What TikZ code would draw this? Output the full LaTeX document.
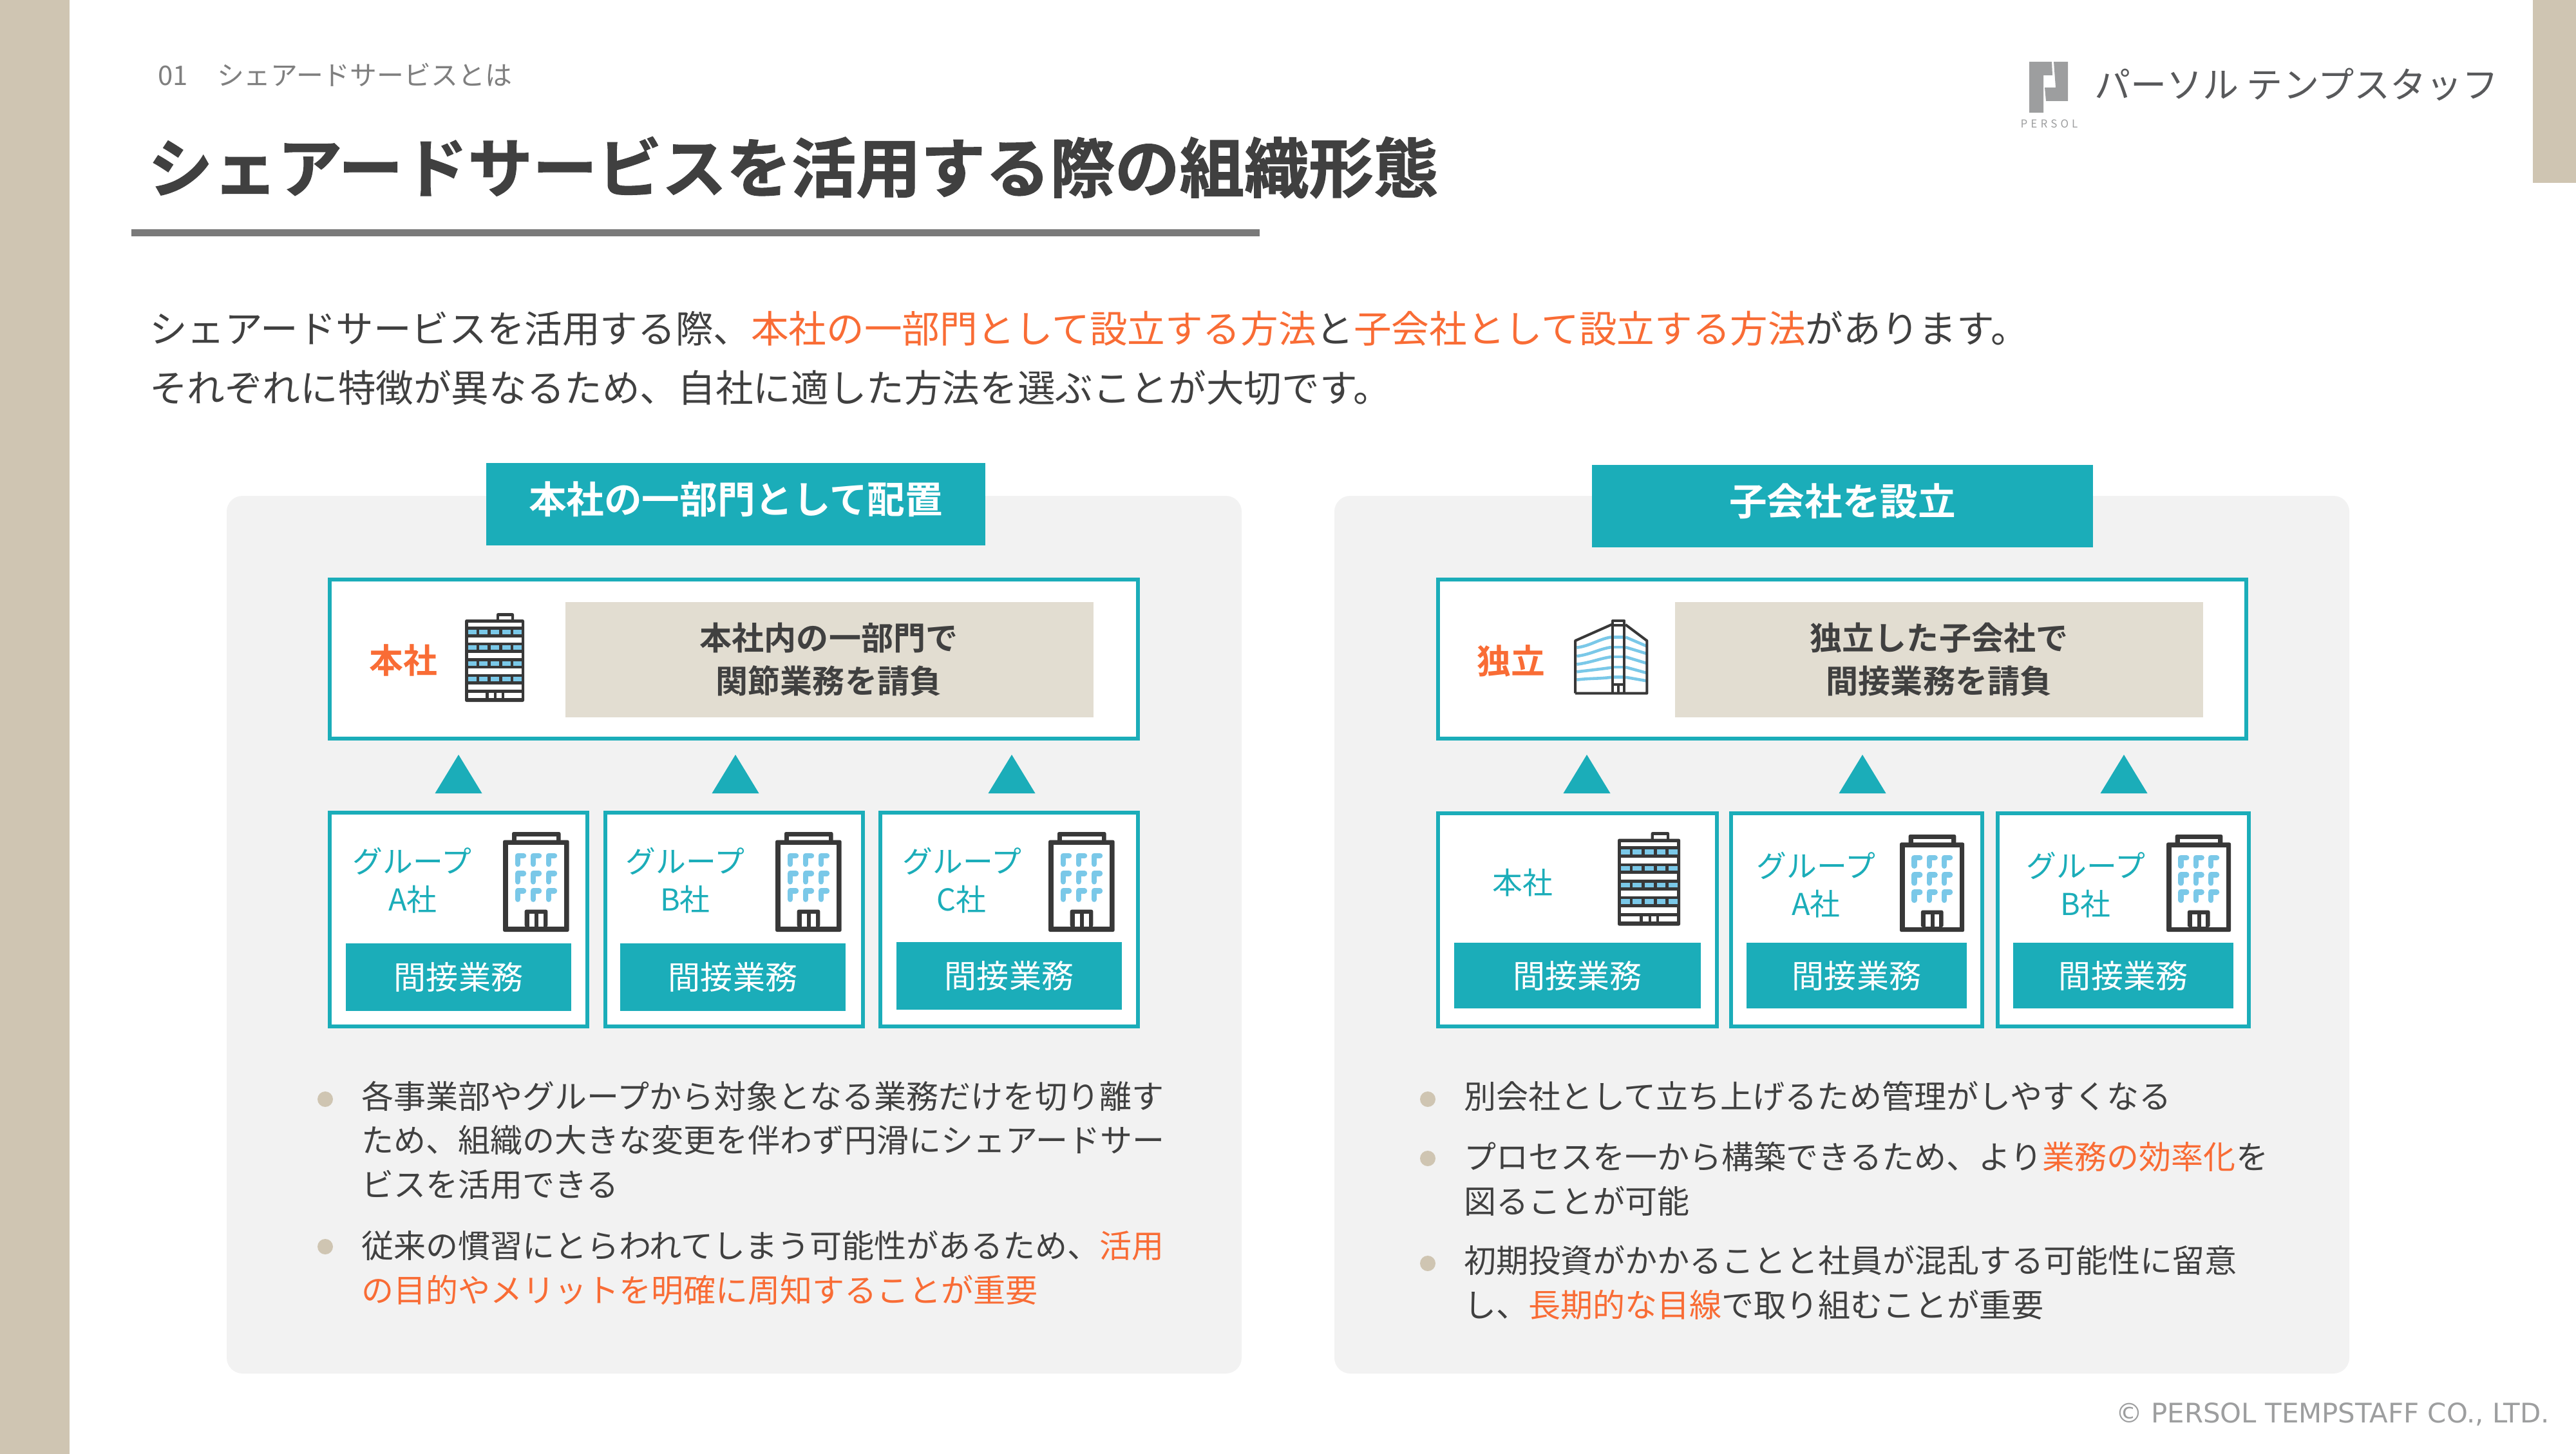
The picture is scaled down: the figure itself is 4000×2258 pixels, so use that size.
\documentclass[tikz,border=0pt]{standalone}
\usepackage{fontspec}
\setmainfont{Noto Sans CJK JP}[BoldFont={Noto Sans CJK JP Bold}]
\newfontfamily\heavyfont{Noto Sans CJK JP Bold}[FakeBold=1.2]
\newfontfamily\footfont{DejaVu Sans}
\definecolor{strip}{HTML}{CFC5B2}
\definecolor{ink}{HTML}{404040}
\definecolor{orangeT}{HTML}{F96C35}
\definecolor{teal}{HTML}{1BADB9}
\definecolor{beige}{HTML}{E2DDD1}
\definecolor{panel}{HTML}{F2F2F2}
\definecolor{rulecol}{HTML}{7A7A7A}
\definecolor{winblue}{HTML}{7AC8E8}
\definecolor{icon}{HTML}{383838}
\definecolor{logoG}{HTML}{9D9E9F}
\definecolor{logoT}{HTML}{58595B}
\definecolor{subT}{HTML}{7F7F7F}
\newcommand{\fpx}[1]{\pgfmathsetmacro{\fszv}{#1*0.28346}\fontsize{\fszv pt}{\fszv pt}\selectfont}
\tikzset{
  txt/.style={inner sep=0pt,outer sep=0pt,execute at begin node={\rule[-.12em]{0pt}{1em}},font=\fpx{50.2},text=ink},
  body/.style={txt,anchor=west},
  bodylg/.style={txt,anchor=west,font=\fpx{58.8}},
  grouptext/.style={txt,font=\fpx{47},text=teal},
  taskt/.style={txt,font=\fpx{50.2},text=white},
  headt/.style={txt,font=\fpx{58.8}\bfseries,text=white},
  beiget/.style={txt,font=\fpx{50.2}\bfseries,text=ink},
  keyt/.style={txt,font=\fpx{53}\bfseries,text=orangeT},
  tealbox/.style={draw=teal,line width=1.7pt,fill=white},
  tealfill/.style={fill=teal},
  beigebox/.style={fill=beige},
  panelbox/.style={fill=panel,rounded corners=7pt},
  arrowtri/.style={fill=teal},
  bulletdot/.style={fill=strip},
  dk/.style={fill=icon,rounded corners=0.7pt},
  win/.style={draw=winblue,line width=2.4pt,line cap=round,line join=round},
}
% \bx{name}{style}{x1}{y1}{x2}{y2}
\newcommand{\bx}[6]{%
  \pgfmathsetmacro{\bxc}{(#3+#5)/2}\pgfmathsetmacro{\byc}{(#4+#6)/2}%
  \pgfmathsetmacro{\bw}{(#5-#3)*0.01}\pgfmathsetmacro{\bh}{(#6-#4)*0.01}%
  \node[#2,inner sep=0pt,outer sep=0pt,minimum width=\bw cm,minimum height=\bh cm] (#1) at (\bxc,\byc) {};}
\newcommand{\towericon}[3]{%
 \begin{scope}[shift={(#1,#2)},x=#3*0.01cm,y=-#3*0.01cm]
  \fill[dk] (49,0) rectangle (76,13);
  \fill[white] (53,5) rectangle (72,10);
  \fill[dk] (0,10) rectangle (92,138);
  \foreach \a/\b in {15/21,38/46,62/70,86/95,111/119}{\fill[white] (5,\a) rectangle (87.5,\b);}
  \foreach \a/\b in {5/32,37/45,49/57,61/87.5}{\fill[white] (\a,124) rectangle (\b,132);}
  \foreach \r in {26,50.3,74.6,99}{\foreach \c in {5,22,40,57.5,75}{\fill[winblue] (\c,\r) rectangle ++(13,7);}}
 \end{scope}}
\newcommand{\groupicon}[3]{%
 \begin{scope}[shift={(#1,#2)},x=#3*0.01cm,y=-#3*0.01cm]
  \fill[dk] (14,0) rectangle (89.5,15);
  \fill[white] (21,7.3) rectangle (82.5,13);
  \fill[dk] (0,12.7) rectangle (102.7,155);
  \fill[white] (7.7,20) rectangle (95,147.3);
  \foreach \r in {37,64.3,91.6}{\foreach \c in {23,47,71}{\draw[win] (\c,\r+13) -- (\c,\r) -- (\c+9,\r);}}
  \fill[dk] (33.7,120.7) rectangle (69.3,147.5);
  \fill[white] (41,127.3) rectangle (48.7,147);
  \fill[white] (55.3,127.3) rectangle (63,147);
 \end{scope}}
\begin{document}
\begin{tikzpicture}[x=0.01cm,y=-0.01cm]
\useasboundingbox (0,0) rectangle (4000,2258);
\fill[white] (0,0) rectangle (4000,2258);
\fill[strip] (0,0) rectangle (108,2258);
\fill[strip] (3933,0) rectangle (4000,284);
% header
\node[txt,anchor=west,font=\fpx{42},text=subT] (secno) at (245,117) {01};
\node[txt,anchor=west,font=\fpx{42},text=subT] (sect) at (337,117) {シェアードサービスとは};
\node[txt,anchor=west,font=\fpx{100.8}\heavyfont] (title) at (230,260) {シェアードサービスを活用する際の組織形態};
\fill[rulecol] (204,356) rectangle (1956,367);
% logo
\fill[logoG] (3151,96) -- (3186,96) -- (3187,117) -- (3173,117) -- (3173,175) -- (3151,175) -- cycle;
\fill[logoG] (3189,96) -- (3211,96) -- (3211,157) -- (3177,157) -- (3175,136) -- (3192,136) -- cycle;
\node[inner sep=0pt,font=\fpx{17},text=logoG] (logom) at (3182,192) {P\hspace{.3em}E\hspace{.3em}R\hspace{.3em}S\hspace{.3em}O\hspace{.3em}L};
\node[txt,anchor=west,font=\fpx{56.3},text=logoT] (logot) at (3252,131) {パーソル\hspace{.22em}テンプスタッフ};
% intro
\node[bodylg] (intro1) at (232,510) {シェアードサービスを活用する際、\textcolor{orangeT}{本社の一部門として設立する方法}と\textcolor{orangeT}{子会社として設立する方法}があります。};
\node[bodylg] (intro2) at (232,602) {それぞれに特徴が異なるため、自社に適した方法を選ぶことが大切です。};
% panels
\fill[panelbox] (352,770) rectangle (1928,2133);
\fill[panelbox] (2072,770) rectangle (3648,2133);
% headers
\bx{hl}{tealfill}{755}{719}{1530}{847}
\node[headt] (hlt) at ([yshift=0.08cm]hl.center) {本社の一部門として配置};
\bx{hr}{tealfill}{2472}{722}{3250}{850}
\node[headt] (hrt) at ([yshift=0.08cm]hr.center) {子会社を設立};
% ---------- left diagram
\bx{topL}{tealbox}{512}{900}{1767}{1147}
\bx{begL}{beigebox}{878}{935}{1698}{1114}
\node[keyt] (keyL) at (626,1025) {本社};
\node[beiget] (begL1) at (1287,990) {本社内の一部門で};
\node[beiget] (begL2) at (1287,1057) {関節業務を請負};
\towericon{722}{952}{1}
\foreach \ax in {712,1142,1571}{\fill[arrowtri] (\ax,1172) -- (\ax+36.5,1232) -- (\ax-36.5,1232) -- cycle;}
\bx{gLa}{tealbox}{512}{1262}{912}{1594}
\bx{gLb}{tealbox}{940}{1262}{1340}{1594}
\bx{gLc}{tealbox}{1367}{1262}{1767}{1594}
\bx{tLa}{tealfill}{537}{1465}{887}{1570}
\bx{tLb}{tealfill}{963}{1465}{1313}{1570}
\bx{tLc}{tealfill}{1392}{1463}{1742}{1568}
\node[taskt] (tLat) at (tLa) {間接業務};
\node[taskt] (tLbt) at (tLb) {間接業務};
\node[taskt] (tLct) at (tLc) {間接業務};
\node[grouptext] (lga1) at (640,1338) {グループ};
\node[grouptext] (lga2) at (641,1397) {A社};
\node[grouptext] (lgb1) at (1064,1338) {グループ};
\node[grouptext] (lgb2) at (1064,1397) {B社};
\node[grouptext] (lgc1) at (1494,1338) {グループ};
\node[grouptext] (lgc2) at (1493,1397) {C社};
\groupicon{781}{1292}{1}
\groupicon{1204}{1292}{1}
\groupicon{1628}{1292}{1}
% left bullets
\foreach \by in {1707,1936}{\fill[bulletdot] (505,\by) circle (12);}
\node[body] (bl1) at (561,1702) {各事業部やグループから対象となる業務だけを切り離す};
\node[body] (bl2) at (561,1770) {ため、組織の大きな変更を伴わず円滑にシェアードサー};
\node[body] (bl3) at (561,1839) {ビスを活用できる};
\node[body] (bl4) at (561,1934) {従来の慣習にとらわれてしまう可能性があるため、\textcolor{orangeT}{活用}};
\node[body,text=orangeT] (bl5) at (561,2003) {の目的やメリットを明確に周知することが重要};
% ---------- right diagram
\bx{topR}{tealbox}{2233}{900}{3488}{1147}
\bx{begR}{beigebox}{2601}{935}{3421}{1114}
\node[keyt] (keyR) at (2346,1026) {独立};
\node[beiget] (begR1) at (3011,990) {独立した子会社で};
\node[beiget] (begR2) at (3011,1057) {間接業務を請負};
% side building
\begin{scope}[shift={(2420,950)},x=0.01cm/3,y=-0.01cm/3]
  \foreach \a/\b/\c/\d/\e in {167/118/118/160/118,207/165/165/195/165,245/210/210/240/210,280/260/258/285/258,317/305/305/322/305}{
    \draw[winblue,line width=1.3pt] (85,\a) .. controls (150,\a-8) and (190,\b+8) .. (247,\b);
    \draw[winblue,line width=1.3pt] (250,\c) -- (310,\e);
    \draw[winblue,line width=1.3pt] (312,\c) -- (410,\d);
  }
  \draw[icon,line width=1.15pt,line join=round] (78,380) -- (78,135) -- (247,60);
  \draw[icon,line width=1.15pt,line join=round] (78,380) -- (412,380) -- (412,135) -- (312,60);
  \draw[icon,line width=1.15pt,line join=round] (252,380) -- (252,42) -- (307,42) -- (307,380);
  \draw[icon,line width=1.15pt] (252,62) -- (307,62);
  \draw[icon,line width=1.15pt] (252,340) -- (307,340);
  \draw[icon,line width=1.15pt] (279,340) -- (279,380);
\end{scope}
\foreach \ax in {2464,2892,3298}{\fill[arrowtri] (\ax,1172) -- (\ax+36.5,1232) -- (\ax-36.5,1232) -- cycle;}
\bx{gRa}{tealbox}{2233}{1263}{2666}{1594}
\bx{gRb}{tealbox}{2688}{1263}{3078}{1594}
\bx{gRc}{tealbox}{3102}{1263}{3492}{1594}
\bx{tRa}{tealfill}{2258}{1464}{2641}{1566}
\bx{tRb}{tealfill}{2712}{1464}{3054}{1566}
\bx{tRc}{tealfill}{3126}{1464}{3468}{1566}
\node[taskt] (tRat) at (tRa) {間接業務};
\node[taskt] (tRbt) at (tRb) {間接業務};
\node[taskt] (tRct) at (tRc) {間接業務};
\node[grouptext] (rh) at (2364,1371) {本社};
\node[grouptext] (rga1) at (2820,1345) {グループ};
\node[grouptext] (rga2) at (2820,1404) {A社};
\node[grouptext] (rgb1) at (3239,1345) {グループ};
\node[grouptext] (rgb2) at (3238,1404) {B社};
\towericon{2512}{1292}{1.055}
\groupicon{2950}{1296}{0.975}
\groupicon{3364}{1296}{0.975}
% right bullets
\foreach \by in {1707,1799,1962}{\fill[bulletdot] (2217,\by) circle (12);}
\node[body] (br1) at (2273,1702) {別会社として立ち上げるため管理がしやすくなる};
\node[body] (br2) at (2273,1796) {プロセスを一から構築できるため、より\textcolor{orangeT}{業務の効率化}を};
\node[body] (br3) at (2273,1865) {図ることが可能};
\node[body] (br4) at (2273,1957) {初期投資がかかることと社員が混乱する可能性に留意};
\node[body] (br5) at (2273,2026) {し、\textcolor{orangeT}{長期的な目線}で取り組むことが重要};
% footer
\node[txt,anchor=east,font=\fpx{42}\footfont,text=logoG] (foot) at (3959,2194) {© PERSOL TEMPSTAFF CO., LTD.};
\end{tikzpicture}
\end{document}
